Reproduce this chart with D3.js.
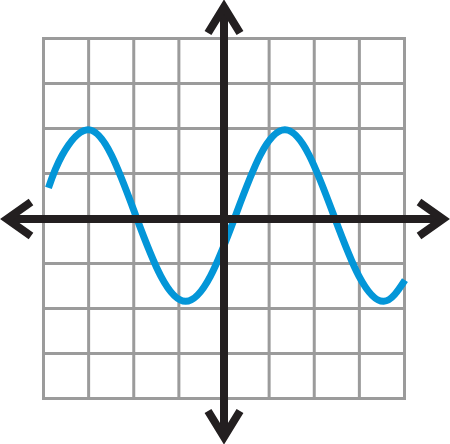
<!DOCTYPE html>
<html>
<head>
<meta charset="utf-8">
<script src="https://cdn.jsdelivr.net/npm/d3@7/dist/d3.min.js"></script>
<style>
  html, body { margin: 0; padding: 0; background: #ffffff; }
  svg { display: block; }
</style>
</head>
<body>
<script>
// grid ticks (grid units)
const gridTicks = [-4, -3, -2, -1, 0, 1, 2, 3, 4];

// wave points (grid units)
const waveX = [-3.89, -3.59, -3.04, -2.49, -1.95, -1.40, -0.85, -0.30, 0.25, 0.80, 1.35, 1.89, 2.44, 2.99, 3.54, 4.01];
const waveY = [0.68, 1.40, 1.97, 1.40, 0.05, -1.28, -1.84, -1.28, 0.05, 1.40, 1.97, 1.40, 0.05, -1.28, -1.84, -1.37];

const W = 450, H = 444;
const svg = d3.select("body").append("svg").attr("width", W).attr("height", H);

const x = d3.scaleLinear().domain([-4, 4]).range([43.5, 404.5]);
const y = d3.scaleLinear().domain([-4, 4]).range([398.5, 38.5]);

// grid
const grid = svg.append("g").attr("stroke", "#9b9b9b").attr("stroke-width", 3).attr("fill", "none");
grid.selectAll("line.v").data(gridTicks).join("line")
  .attr("class", "v")
  .attr("x1", d => x(d)).attr("x2", d => x(d))
  .attr("y1", y(4) - 1.5).attr("y2", y(-4) + 1.5);
grid.selectAll("line.h").data(gridTicks).join("line")
  .attr("class", "h")
  .attr("y1", d => y(d)).attr("y2", d => y(d))
  .attr("x1", x(-4) - 1.5).attr("x2", x(4) + 1.5);

// wave
const pts = waveX.map((v, i) => [v, waveY[i]]);
const line = d3.line().x(d => x(d[0])).y(d => y(d[1])).curve(d3.curveNatural);
svg.append("path")
  .datum(pts)
  .attr("d", line)
  .attr("fill", "none")
  .attr("stroke", "#0396d8")
  .attr("stroke-width", 7);

// axes
const ax = x(0), ay = y(0) + 0.5;
const axisColor = "#231f20";
const axes = svg.append("g").attr("stroke", axisColor).attr("stroke-width", 8).attr("fill", "none")
  .attr("stroke-linejoin", "miter").attr("stroke-miterlimit", 10).attr("stroke-linecap", "butt");
axes.append("line").attr("x1", 8).attr("x2", W - 8).attr("y1", ay).attr("y2", ay);
axes.append("line").attr("x1", ax).attr("x2", ax).attr("y1", 8).attr("y2", H - 8);

const chev = d3.line();
// up
axes.append("path").attr("d", chev([[ax - 16, 33], [ax, 7], [ax + 16, 33]]));
// down
axes.append("path").attr("d", chev([[ax - 16, H - 33], [ax, H - 7], [ax + 16, H - 33]]));
// left
axes.append("path").attr("d", chev([[31, ay - 17], [7, ay], [31, ay + 17]]));
// right
axes.append("path").attr("d", chev([[W - 31, ay - 17], [W - 7, ay], [W - 31, ay + 17]]));
</script>
</body>
</html>
